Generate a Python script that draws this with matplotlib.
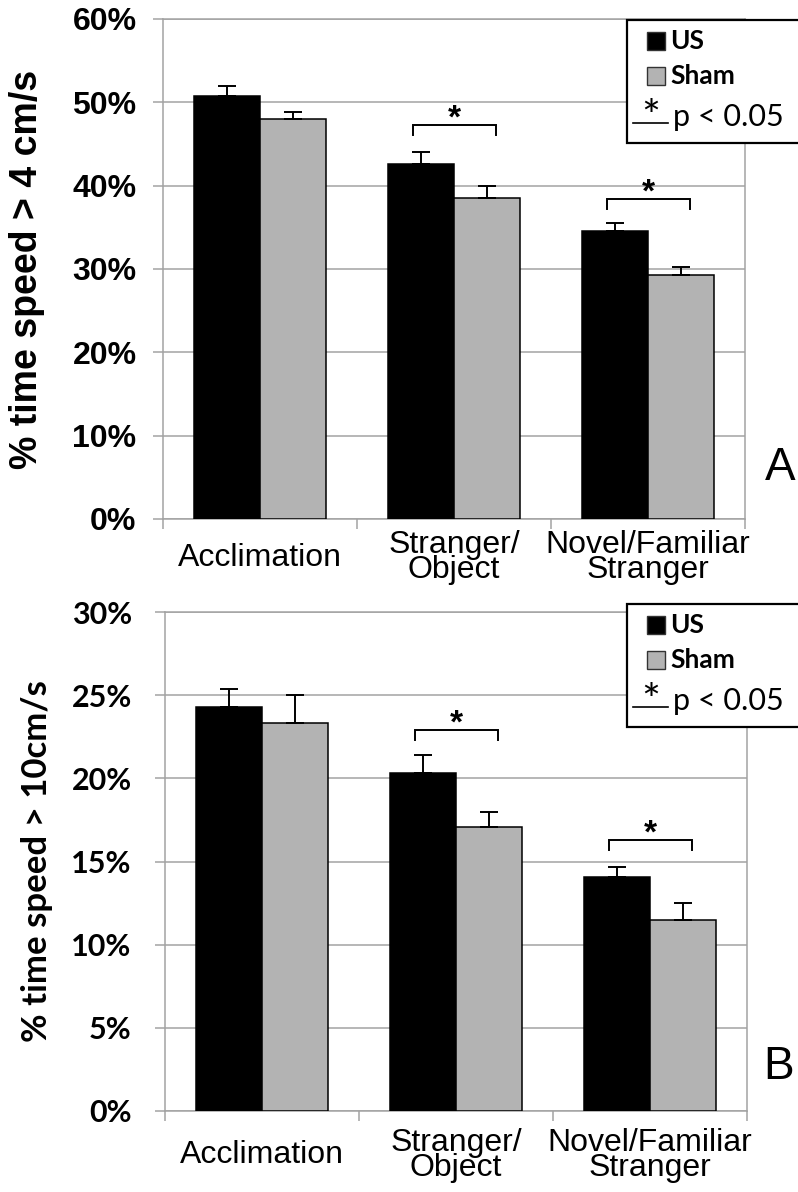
import numpy as np
import matplotlib
matplotlib.use("Agg")
import matplotlib.pyplot as plt
from matplotlib.patches import Rectangle
from matplotlib.lines import Line2D

W, H = 798, 1192

categories = ["Acclimation", "Stranger/\nObject", "Novel/Familiar\nStranger"]

# panel A: % time speed > 4 cm/s
a_us = [50.7, 42.6, 34.6]
a_us_err = [1.2, 1.4, 0.9]
a_sham = [48.0, 38.5, 29.3]
a_sham_err = [0.8, 1.5, 1.0]
a_sig_cat = [1, 2]
a_sig_y = [47.3, 38.4]

# panel B: % time speed > 10 cm/s
b_us = [24.3, 20.35, 14.05]
b_us_err = [1.05, 1.05, 0.6]
b_sham = [23.35, 17.1, 11.5]
b_sham_err = [1.65, 0.9, 1.0]
b_sig_cat = [1, 2]
b_sig_y = [22.9, 16.3]

GRID = "#a3a3a3"
SHAM = "#b3b3b3"
BW = 0.34


def px(x, y):
    return x / W, 1 - y / H


def panel(ax, us, us_err, sham, sham_err, sig_cat, sig_y, ymax, step,
          tickfont, labelfont, ylabel, tickpad, xpad, drop):
    x = np.arange(len(categories)) + 0.5
    ax.bar(x - BW / 2, us, BW, color="black", edgecolor="black", lw=1.1, zorder=3)
    ax.bar(x + BW / 2, sham, BW, color=SHAM, edgecolor="black", lw=1.1, zorder=3)
    ax.errorbar(x - BW / 2, us, yerr=[np.zeros(3), us_err], fmt="none",
                ecolor="black", elinewidth=1.4, capsize=6.5, capthick=1.4, zorder=4)
    ax.errorbar(x + BW / 2, sham, yerr=[np.zeros(3), sham_err], fmt="none",
                ecolor="black", elinewidth=1.4, capsize=6.5, capthick=1.4, zorder=4)
    for c, yy in zip(sig_cat, sig_y):
        xl, xr = x[c] - 0.21, x[c] + 0.215
        ax.plot([xl, xl, xr, xr], [yy - drop, yy, yy, yy - drop], color="black",
                lw=1.4, zorder=5, solid_joinstyle="miter")
        ax.annotate("*", xy=(x[c], yy), xytext=(0, -2), textcoords="offset points",
                    ha="center", va="baseline", fontsize=24, fontweight="bold",
                    family="Liberation Sans", zorder=5)

    ax.set_xlim(0, 3)
    ax.set_ylim(0, ymax)
    yt = np.arange(0, ymax + step / 2, step)
    ax.set_yticks(yt)
    ax.set_yticklabels([f"{int(v)}%" for v in yt], fontsize=tickfont[1],
                       fontweight="bold", family=tickfont[0])
    ax.set_xticks(x)
    ax.set_xticklabels(categories, fontsize=23, family="Liberation Sans",
                       linespacing=0.78)
    for lbl in ax.get_xticklabels():
        lbl.set_va("center")
    ax.set_xticks([0, 1, 2, 3], minor=True)
    ax.tick_params(axis="x", which="major", length=0, pad=xpad)
    ax.tick_params(axis="x", which="minor", length=7, width=1.1, color=GRID)
    ax.tick_params(axis="y", length=7, width=1.1, color=GRID, pad=tickpad)
    ax.grid(axis="y", color=GRID, lw=1.1, zorder=0)
    ax.set_axisbelow(True)
    for s in ax.spines.values():
        s.set_color(GRID)
        s.set_linewidth(1.1)
    ax.set_ylabel(ylabel, fontsize=labelfont[1], fontweight="bold",
                  family=labelfont[0])


def legend(fig, top):
    x0, y0 = px(627, top + 123)
    x1, y1 = px(802, top)
    fig.add_artist(Rectangle((x0, y0), x1 - x0, y1 - y0, transform=fig.transFigure,
                             facecolor="white", edgecolor="black", lw=1.6, zorder=10))
    for dy, col, name in [(12, "black", "US"), (47, SHAM, "Sham")]:
        sx, sy = px(647, top + dy + 18)
        fig.add_artist(Rectangle((sx, sy), 18 / W, 18 / H, transform=fig.transFigure,
                                 facecolor=col, edgecolor="#333333", lw=1.0, zorder=11))
        tx, ty = px(670, top + dy + 9)
        fig.text(tx, ty, name, fontsize=19, fontweight="bold", family="Lato",
                 va="center", ha="left", zorder=12)
    lx0, ly = px(633, top + 103)
    lx1, _ = px(668, top + 103)
    fig.add_artist(Line2D([lx0, lx1], [ly, ly], transform=fig.transFigure,
                          color="black", lw=1.2, zorder=12))
    sx, sy = px(651, top + 111)
    fig.text(sx, sy, "*", fontsize=32, family="Lato", ha="center", va="baseline",
             zorder=12)
    tx, ty = px(673, top + 97)
    fig.text(tx, ty, "p < 0.05", fontsize=22, family="Lato", ha="left", va="center",
             zorder=12)


fig = plt.figure(figsize=(W / 100, H / 100), dpi=100)
axA = fig.add_axes([163 / W, 1 - 519 / H, 582 / W, 500 / H])
axB = fig.add_axes([165 / W, 1 - 1111 / H, 582 / W, 499 / H])

panel(axA, a_us, a_us_err, a_sham, a_sham_err, a_sig_cat, a_sig_y, 60, 10,
      ("Liberation Sans", 23), ("Liberation Sans", 27),
      "% time speed > 4 cm/s", 12, 28, 1.2)
panel(axB, b_us, b_us_err, b_sham, b_sham_err, b_sig_cat, b_sig_y, 30, 5,
      ("Lato", 22), ("Lato", 25),
      "% time speed > 10cm/s", 17, 32, 0.6)
axA.yaxis.set_label_coords(-0.203, 0.50)
axB.yaxis.set_label_coords(-0.192, 0.50)

legend(fig, 20)
legend(fig, 604)

fig.text(*px(780, 468), "A", fontsize=33, family="Liberation Sans", ha="center", va="center")
fig.text(*px(779, 1067), "B", fontsize=33, family="Liberation Sans", ha="center", va="center")

fig.savefig("out.png", dpi=100)
